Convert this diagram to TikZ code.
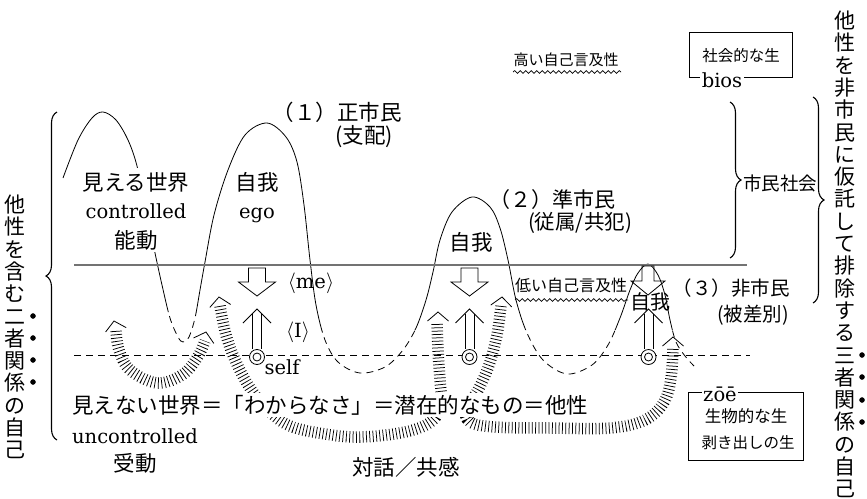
\documentclass[tikz,border=0pt]{standalone}
\usepackage{fontspec}
\newfontfamily\cjk{Noto Sans CJK JP}
\newfontfamily\latf{DejaVu Serif}
\usetikzlibrary{decorations.pathreplacing,decorations.pathmorphing}
\newcommand\fs[1]{\fontsize{#1}{#1}\selectfont}
\tikzset{
  chevron/.pic={\draw[line width=0.8pt] (-10.5,9) -- (0,0) -- (10.5,9);},
}
\begin{document}
\begin{tikzpicture}[x=1pt,y=-1pt,
  every node/.style={inner sep=0pt},
  hump/.style={line width=0.8pt},
  humpdash/.style={line width=0.8pt, dash pattern=on 7pt off 5pt},
  hatch/.style={line width=11.5pt, dash pattern=on 0.75pt off 2.6pt},
  jp/.style={font=\cjk\fs{21.5}},
  lat/.style={font=\latf\fs{19.5}},
  cover/.style={fill=white, inner sep=1.5pt},
  wave/.style={decorate, decoration={snake, amplitude=1.4pt, segment length=5.5pt}, line width=0.7pt},
  vert/.style={font=\cjk\fontsize{21}{22.3}\selectfont, align=center},
  emdot/.style={circle, fill=black, draw=black, line width=0.4pt, minimum size=5pt, inner sep=0pt},
  bracestyle/.style={decorate, decoration={brace, amplitude=11pt}, line width=1.1pt},
  outline/.style={line width=0.8pt},
]
\useasboundingbox (0,0) rectangle (867,498);

% ---- wavy curve: solid above, dashed below ----
\begin{scope}
  \clip (0,0) -- (867,0) -- (867,330) -- (212,330) -- (212,312) -- (0,312) -- cycle;
  \draw[hump] plot[smooth, tension=0.55] coordinates {(63,178) (78,140) (92,118) (103,112) (116,120) (128,140) (137,166) (146,210) (155,253) (162,285) (170,318) (178,337) (183,342) (189,337) (195,318) (200,290) (205,262) (214,215) (228,170) (245,135) (267,123) (286,137) (297,162) (304,205) (310,260) (316,305) (325,340) (338,362) (360,373) (385,367) (403,350) (416,328) (426,300) (433,272) (440,240) (452,212) (472,197) (490,207) (500,228) (508,260) (516,300) (527,333) (543,360) (567,374) (592,365) (608,345) (620,318) (630,290) (638,273) (648,264) (658,275) (665,295) (670,320) (676,342) (685,356) (694,366)};
\end{scope}
\begin{scope}
  \clip (0,498) -- (867,498) -- (867,330) -- (212,330) -- (212,312) -- (0,312) -- cycle;
  \draw[humpdash] plot[smooth, tension=0.55] coordinates {(63,178) (78,140) (92,118) (103,112) (116,120) (128,140) (137,166) (146,210) (155,253) (162,285) (170,318) (178,337) (183,342) (189,337) (195,318) (200,290) (205,262) (214,215) (228,170) (245,135) (267,123) (286,137) (297,162) (304,205) (310,260) (316,305) (325,340) (338,362) (360,373) (385,367) (403,350) (416,328) (426,300) (433,272) (440,240) (452,212) (472,197) (490,207) (500,228) (508,260) (516,300) (527,333) (543,360) (567,374) (592,365) (608,345) (620,318) (630,290) (638,273) (648,264) (658,275) (665,295) (670,320) (676,342) (685,356) (694,366)};
\end{scope}

% ---- horizontal lines ----
\draw[line width=1.3pt, black!55] (74,265) -- (747,265);
\draw[line width=0.8pt, dash pattern=on 7pt off 5pt] (74,355) -- (750,355);

% ---- hatched arcs ----
\draw[hatch] plot[smooth, tension=0.6] coordinates {(116,331) (119,350) (130,370) (157,383) (182,375) (197,358) (205,341)};
\draw[hatch] plot[smooth, tension=0.6] coordinates {(220,306) (226,335) (236,362) (250,388) (268,410) (290,426) (325,434) (360,437) (405,432) (432,421) (441,402) (440,380) (438,350) (437,322)};
\draw[hatch] plot[smooth, tension=0.6] coordinates {(501,306) (497,335) (489,365) (478,390) (466,408) (470,422) (495,427) (550,428) (610,428) (645,420) (664,402) (671,378) (673,347)};
\pic[rotate=12] at (114,321) {chevron};
\pic[rotate=-15] at (206,332) {chevron};
\pic[rotate=8] at (219,297) {chevron};
\pic at (438,312) {chevron};
\pic[rotate=-5] at (502,297) {chevron};
\pic at (673,337) {chevron};

% ---- down block arrows ----
\foreach \cx in {257,469.5} {
  \draw[outline, fill=white] (\cx-8.5,268) -- (\cx+8.5,268) -- (\cx+8.5,282) -- (\cx+18.5,282) -- (\cx,296) -- (\cx-18.5,282) -- (\cx-8.5,282) -- cycle;
}
\draw[outline] (642,266) -- (654,266) -- (654,281) -- (665,281) -- (648,295) -- (631,281) -- (642,281) -- cycle;

% ---- double up arrows and self marks ----
\foreach \cx/\nm in {257/sa,469.5/sb,648.5/sc} {
  \draw[outline] (\cx-4.5,314) -- (\cx-4.5,349);
  \draw[outline] (\cx+4.5,314) -- (\cx+4.5,349);
  \draw[outline] (\cx-14,323) -- (\cx,309) -- (\cx+14,323);
  \node[circle, draw, line width=0.8pt, fill=white, minimum size=15pt] (\nm) at (\cx,357) {};
  \node[circle, draw, line width=0.8pt, minimum size=8pt] (\nm i) at (\cx,357) {};
}

% ---- cover for upper-left text block ----
\fill[white] (80,168) rectangle (194,252);

% ---- texts ----
\node[jp] (mieru) at (136,182) {見える世界};
\node[lat, anchor=base] (ctrl) at (136,218) {controlled};
\node[jp] (nodo) at (136,240) {能動};
\node[jp] (ego1) at (257,182) {自我};
\node[lat, anchor=base] (egoL) at (257,218) {ego};
\node[jp] (cit1) at (337,112) {（１）正市民};
\node[jp] (cit1b) at (364,137) {(支配)};
\node[font=\cjk\fs{21}] (cit2) at (552,200) {（２）準市民};
\node[font=\cjk\fs{20.5}] (cit2b) at (580,223) {(従属/共犯)};
\node[jp] (ego2) at (471,242) {自我};
\node[lat, anchor=base] (me) at (311,288) {$\langle$me$\rangle$};
\node[lat, anchor=base] (eye) at (298,337) {$\langle$I$\rangle$};
\node[lat, anchor=base] (self) at (282,374) {self};

\node[font=\cjk\fs{15}] (high) at (566,60) {高い自己言及性};
\draw[wave] (513,72) -- (621,72);
\node[font=\cjk\fs{16}] (low) at (571,285) {低い自己言及性};
\draw[wave] (515,300) -- (628,300);

\draw[line width=0.8pt] (689,32) rectangle (792,77);
\node[font=\cjk\fs{15.5}] (shakai) at (741,56) {社会的な生};
\node[lat, anchor=base, cover] (bios) at (722,87) {bios};

\node[font=\cjk\fs{18.5}] (shimin) at (780,183) {市民社会};
\node[font=\cjk\fs{19.5}] (cit3) at (731,288) {（３）非市民};
\node[font=\cjk\fs{19.5}] (cit3b) at (753,315) {(被差別)};
\node[font=\cjk\fs{20}] (ego3) at (650,302) {自我};

\node[jp, cover] (unseen) at (330,405) {見えない世界＝「わからなさ」＝潜在的なもの＝他性};
\node[lat, anchor=base] (unctrl) at (135,443) {uncontrolled};
\node[jp] (judo) at (135,463) {受動};
\node[jp] (taiwa) at (406,467) {対話／共感};

\draw[line width=0.8pt] (688,392) rectangle (803,460);
\node[lat, anchor=base, cover] (zoe) at (720,401) {zōē};
\node[font=\cjk\fs{16.5}] (seibutsu) at (746,416) {生物的な生};
\node[font=\cjk\fs{15.5}] (muki) at (748,443) {剥き出しの生};

% ---- braces ----
\draw[bracestyle] (57,440) -- (57,112);
\draw[bracestyle] (730,102) -- (730,258);
\draw[bracestyle] (813,97) -- (813,303);

% ---- vertical texts ----
\node[vert] (leftv) at (15,327) {他\\性\\を\\含\\む\\二\\者\\関\\係\\の\\自\\己};
\node[vert] (rightv) at (845,254.5) {他\\性\\を\\非\\市\\民\\に\\仮\\託\\し\\て\\排\\除\\す\\る\\三\\者\\関\\係\\の\\自\\己};
\foreach \yy [count=\i] in {316,338,360,382} \node[emdot] (ld\i) at (33,\yy) {};
\foreach \yy [count=\i] in {355,377,400,422} \node[emdot] (rd\i) at (862,\yy) {};
\end{tikzpicture}
\end{document}
